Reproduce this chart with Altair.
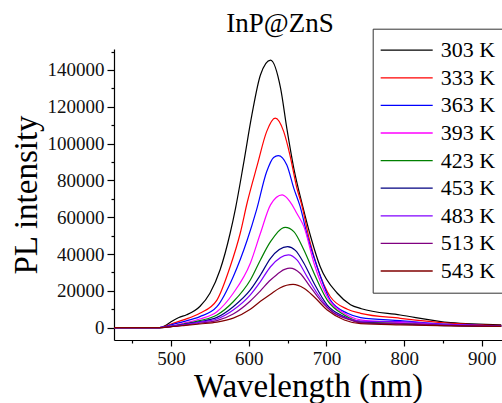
import altair as alt
import pandas as pd

# ---- data ----
labels = ["303 K", "333 K", "363 K", "393 K", "423 K", "453 K", "483 K", "513 K", "543 K"]
colors = ["#000000", "#ff0000", "#0000ff", "#ff00ff", "#008000", "#000080", "#8000ff", "#800080", "#800000"]

wl_303 = [425, 485, 492, 500, 510, 520, 537, 550, 563, 576, 583, 593, 604, 615, 628, 641, 649, 658, 669, 680, 692, 714, 731, 745, 795, 860, 925]
pl_303 = [0, 0, 1000, 3200, 5500, 7000, 11500, 18700, 31300, 51300, 65000, 88400, 115600, 137300, 145400, 130000, 108300, 86600, 66700, 49000, 33100, 18700, 12500, 10300, 6900, 2700, 1500]

wl_333 = [425, 485, 492, 500, 516, 537, 559, 576, 589, 598, 611, 623, 634, 645, 653, 662, 668, 678, 688, 705, 727, 744, 795, 860, 925]
pl_333 = [0, 0, 700, 2000, 4200, 7800, 15000, 33100, 51300, 68000, 88400, 106500, 113800, 106500, 93800, 75700, 67000, 48000, 33100, 16800, 10000, 7800, 5100, 2400, 1200]

wl_363 = [425, 485, 492, 500, 516, 537, 559, 580, 598, 610, 623, 632, 638, 649, 658, 666, 676, 688, 705, 727, 744, 795, 860, 925]
pl_363 = [0, 0, 500, 1500, 3300, 6000, 11400, 27700, 47600, 64000, 84700, 92500, 93500, 88400, 75700, 66000, 49000, 33100, 15000, 7800, 5500, 3800, 1800, 1000]

wl_393 = [425, 485, 495, 516, 537, 559, 580, 602, 615, 628, 643, 653, 662, 671, 684, 701, 723, 744, 795, 860, 925]
pl_393 = [0, 0, 600, 2400, 4700, 8700, 18700, 35000, 51300, 66700, 72100, 68500, 62000, 54900, 35000, 16800, 7800, 4200, 2700, 1500, 900]

wl_423 = [425, 485, 495, 516, 537, 559, 580, 602, 615, 628, 647, 658, 671, 684, 701, 723, 744, 795, 860, 925]
pl_423 = [0, 0, 500, 2000, 3800, 6900, 14100, 25900, 36800, 46700, 54500, 52200, 42200, 29600, 15000, 6900, 3300, 2200, 1200, 800]

wl_453 = [425, 485, 495, 516, 537, 559, 580, 602, 615, 628, 650, 660, 671, 684, 701, 723, 744, 795, 860, 925]
pl_453 = [0, 0, 400, 1700, 3300, 5600, 11400, 20500, 28600, 37700, 44000, 42000, 35000, 24100, 12300, 6000, 2700, 2000, 1100, 800]

wl_483 = [425, 485, 495, 516, 537, 559, 580, 602, 615, 628, 651, 662, 675, 688, 705, 727, 744, 795, 860, 925]
pl_483 = [0, 0, 400, 1500, 3000, 4700, 9600, 17800, 25000, 33100, 39500, 36800, 27700, 18700, 9600, 5100, 3600, 3300, 1600, 900]

wl_513 = [425, 485, 495, 516, 537, 559, 580, 602, 615, 628, 653, 666, 679, 692, 710, 731, 744, 795, 860, 925]
pl_513 = [0, 0, 300, 1300, 2400, 3800, 7400, 14500, 20000, 25900, 32300, 29600, 22300, 15000, 7800, 4200, 2800, 2200, 1200, 800]

wl_543 = [425, 485, 495, 516, 537, 559, 580, 602, 615, 628, 640, 657, 671, 684, 701, 723, 744, 795, 860, 925]
pl_543 = [0, 0, 300, 1100, 2000, 3000, 5200, 10000, 14300, 18200, 21600, 23500, 21400, 16800, 9600, 4200, 2200, 1500, 1000, 700]

x_major = [500, 600, 700, 800, 900]
x_minor = [450, 550, 650, 750, 850]
y_major = [0, 20000, 40000, 60000, 80000, 100000, 120000, 140000]
y_minor = [10000, 30000, 50000, 70000, 90000, 110000, 130000, 150000]

series = [(labels[0], wl_303, pl_303), (labels[1], wl_333, pl_333), (labels[2], wl_363, pl_363),
          (labels[3], wl_393, pl_393), (labels[4], wl_423, pl_423), (labels[5], wl_453, pl_453),
          (labels[6], wl_483, pl_483), (labels[7], wl_513, pl_513), (labels[8], wl_543, pl_543)]
rows = []
for name, ws, ps in series:
    for w, p in zip(ws, ps):
        rows.append({"T": name, "wl": w, "pl": p})
df = pd.DataFrame(rows)

FONT = "Liberation Serif, Times New Roman, serif"
xscale = alt.Scale(domain=[426.5, 926], nice=False, zero=False)
yscale = alt.Scale(domain=[-6700, 151400], nice=False, zero=False)

axis_common = dict(domainColor="black", domainWidth=1.2, tickColor="black", tickWidth=1.2,
                   labelFont=FONT, labelFontSize=19, labelColor="#111", grid=False)

lines = alt.Chart(df).mark_line(strokeWidth=1.2, interpolate="monotone", clip=True).encode(
    x=alt.X("wl:Q", scale=xscale,
            axis=alt.Axis(values=x_major, tickSize=6, labelPadding=3, format="d",
                          title="Wavelength (nm)", titleFont=FONT, titleFontSize=33,
                          titleFontWeight="normal", titleColor="black",
                          titleX=194, titleY=56, titleBaseline="alphabetic", orient="bottom",
                          **axis_common)),
    y=alt.Y("pl:Q", scale=yscale,
            axis=alt.Axis(values=y_major, tickSize=7, labelPadding=3, format="d",
                          title="PL intensity", titleFont=FONT, titleFontSize=33,
                          titleFontWeight="normal", titleColor="black",
                          titleX=-78, titleY=145.5, titleBaseline="alphabetic", orient="left",
                          **axis_common)),
    color=alt.Color("T:N", scale=alt.Scale(domain=labels, range=colors),
                    legend=alt.Legend(orient="none", legendX=258.7, legendY=-20.3, title=None,
                                      symbolType="M-1.3,0L3.7,0", symbolSize=433, symbolStrokeWidth=1.3,
                                      labelFont=FONT, labelFontSize=22, labelColor="black",
                                      labelOffset=35, rowPadding=4.6, padding=10,
                                      strokeColor="#333", fillColor="white", cornerRadius=0)),
)

minor = alt.Chart(df).mark_point(opacity=0).encode(
    x=alt.X("wl:Q", scale=xscale,
            axis=alt.Axis(values=x_minor, tickSize=3, labels=False, domain=False, title=None,
                          orient="bottom", tickColor="black", tickWidth=1.2, grid=False)),
    y=alt.Y("pl:Q", scale=yscale,
            axis=alt.Axis(values=y_minor, tickSize=3, labels=False, domain=False, title=None,
                          orient="left", tickColor="black", tickWidth=1.2, grid=False)),
)

chart = alt.layer(lines, minor).resolve_axis(x="independent", y="independent").properties(
    width=388, height=291,
    autosize=alt.AutoSizeParams(type="none"),
    padding={"left": 114, "top": 49, "right": 0, "bottom": 63},
    title=alt.TitleParams("InP@ZnS", font=FONT, fontSize=27, fontWeight="normal", color="black",
                          anchor="middle", dx=-28, dy=14),
).configure(font=FONT).configure_axis(labelFont=FONT, titleFont=FONT).configure_legend(
    labelFont=FONT).configure_view(stroke=None)

chart.save("out.html", embed_options={"renderer": "svg", "actions": False})
